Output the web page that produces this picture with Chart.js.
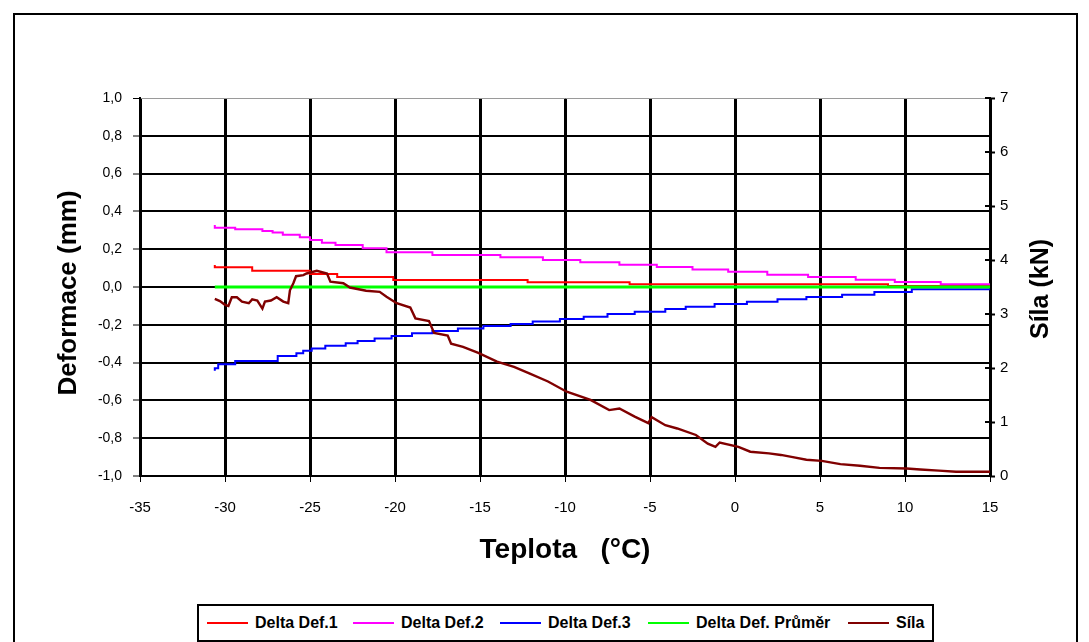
<!DOCTYPE html>
<html lang="cs">
<head>
<meta charset="UTF-8">
<style>
  html, body { margin: 0; padding: 0; background: #fff; }
  body { width: 1089px; height: 642px; overflow: hidden; position: relative; font-family: "Liberation Sans", Arial, sans-serif; }
  #frame { position: absolute; left: 13px; top: 13px; width: 1065px; height: 700px; border: 2px solid #000; box-sizing: border-box; }
  #chart { position: absolute; left: 0; top: 0; }
  #legend { position: absolute; left: 197px; top: 604px; width: 737px; height: 38px; border: 2px solid #000; box-sizing: border-box; background: #fff; }
  .item { position: absolute; top: 0; height: 34px; display: flex; align-items: center; }
  .item i { display: inline-block; width: 41px; height: 2px; margin-right: 7px; }
  .item span { font-weight: bold; font-size: 16px; color: #000; white-space: nowrap; }
</style>
</head>
<body>
<div id="frame"></div>
<canvas id="chart" width="1089" height="642"></canvas>
<div id="legend"></div>

<script src="https://cdn.jsdelivr.net/npm/chart.js"></script>
<script>
// teplota (°C) / hodnota, body
const det1 = [[-30.6, 0.116], [-28.4, 0.104], [-25.0, 0.086], [-23.4, 0.069], [-20.1, 0.053],
  [-12.2, 0.037], [-6.2, 0.025], [-0.3, 0.014], [9.0, 0.014], [10.0, 0.005], [15.0, 0.005]];
const det2 = [[-30.6, 0.328], [-29.4, 0.314], [-27.8, 0.305], [-27.2, 0.296], [-26.6, 0.289],
  [-25.6, 0.277], [-25.0, 0.263], [-24.3, 0.249], [-23.5, 0.234], [-21.9, 0.222], [-20.5, 0.205],
  [-17.8, 0.184], [-13.8, 0.169], [-11.3, 0.157], [-9.1, 0.143], [-6.8, 0.131], [-4.6, 0.118],
  [-2.5, 0.106], [-0.4, 0.092], [1.9, 0.081], [4.3, 0.065], [7.1, 0.053], [9.4, 0.039],
  [12.1, 0.026], [14.6, 0.014], [15.0, 0.014]];
const det3 = [[-30.6, -0.443], [-30.4, -0.430], [-29.4, -0.409], [-26.9, -0.392], [-25.8, -0.365],
  [-25.4, -0.351], [-24.9, -0.337], [-24.1, -0.325], [-22.9, -0.311], [-22.2, -0.298],
  [-21.2, -0.286], [-20.2, -0.272], [-19.0, -0.259], [-17.8, -0.245], [-16.3, -0.233],
  [-14.8, -0.219], [-13.2, -0.206], [-11.9, -0.196], [-10.3, -0.183], [-8.9, -0.169],
  [-7.5, -0.157], [-5.9, -0.143], [-4.1, -0.131], [-2.9, -0.116], [-1.2, -0.104], [0.7, -0.090],
  [2.5, -0.078], [4.2, -0.065], [6.3, -0.053], [8.2, -0.041], [10.4, -0.026], [12.8, -0.012],
  [15.0, -0.012]];
const prumer = [[-30.6, 0.0], [15.0, 0.0]];
const sila = [[-30.6, 3.28], [-30.3, 3.24], [-30.0, 3.17], [-29.8, 3.15], [-29.6, 3.31], [-29.3, 3.31],
  [-29.0, 3.23], [-28.6, 3.20], [-28.4, 3.27], [-28.1, 3.25], [-27.8, 3.10], [-27.65, 3.23],
  [-27.3, 3.25], [-26.96, 3.31], [-26.57, 3.23], [-26.28, 3.20], [-26.18, 3.44], [-25.98, 3.57],
  [-25.82, 3.70], [-25.39, 3.72], [-25.2, 3.75], [-24.6, 3.80], [-24.0, 3.75], [-23.8, 3.60],
  [-23.04, 3.57], [-22.65, 3.49], [-21.7, 3.43], [-20.9, 3.41], [-20.5, 3.32], [-19.9, 3.20],
  [-19.1, 3.12], [-18.8, 2.92], [-18.0, 2.87], [-17.7, 2.65], [-16.9, 2.60], [-16.7, 2.45],
  [-16.0, 2.39], [-15.1, 2.28], [-14.0, 2.12], [-13.0, 2.02], [-12.1, 1.90], [-11.0, 1.75],
  [-9.9, 1.56], [-8.5, 1.41], [-7.4, 1.22], [-6.8, 1.25], [-5.9, 1.10], [-5.1, 0.98], [-4.9, 1.09],
  [-4.1, 0.94], [-3.4, 0.88], [-2.3, 0.76], [-1.6, 0.60], [-1.15, 0.54], [-0.9, 0.62], [0.2, 0.54],
  [0.9, 0.45], [2.0, 0.42], [2.7, 0.39], [3.4, 0.35], [4.2, 0.30], [5.1, 0.28], [6.2, 0.22],
  [7.35, 0.19], [8.5, 0.15], [10.1, 0.14], [10.9, 0.12], [12.0, 0.10], [13.0, 0.08], [15.0, 0.08]];

const labels = ["Delta Def.1", "Delta Def.2", "Delta Def.3", "Delta Def. Průměr", "Síla"];
const colors = ["#ff0000", "#ff00ff", "#0000ff", "#00ff00", "#800000"];
const widths = [2, 2, 2, 3, 2.4];
const xTicks = { min: -35, max: 15, step: 5 };
const yTicks = { min: -1, max: 1, step: 0.2 };
const y2Ticks = { min: 0, max: 7, step: 1 };

const FONT = '"Liberation Sans", Arial, sans-serif';
const PL = 140, PR = 990, PT = 98, PB = 476;

const toXY = arr => arr.map(p => ({ x: p[0], y: p[1] }));
const series = [det1, det2, det3, prumer, sila];

const datasets = series.map((s, i) => ({
  label: labels[i],
  data: toXY(s),
  borderColor: colors[i],
  backgroundColor: colors[i],
  borderWidth: widths[i],
  pointRadius: 0,
  stepped: i < 3 ? 'after' : false,
  tension: 0,
  yAxisID: i === 4 ? 'y2' : 'y',
  order: 5 - i
}));

const titles = {
  id: 'titles',
  afterDraw(chart) {
    const { ctx, chartArea: a } = chart;
    const y2 = chart.scales.y2;
    ctx.save();
    // vnitřní část značek pravé osy
    ctx.strokeStyle = '#000';
    ctx.lineWidth = 2;
    for (let v = y2Ticks.min; v <= y2Ticks.max; v += y2Ticks.step) {
      const py = Math.round(y2.getPixelForValue(v));
      ctx.beginPath();
      ctx.moveTo(a.right - 5, py);
      ctx.lineTo(a.right, py);
      ctx.stroke();
    }
    ctx.fillStyle = '#000';
    ctx.textAlign = 'center';
    ctx.textBaseline = 'middle';
    ctx.font = 'bold 28px ' + FONT;
    ctx.fillText('Teplota   (°C)', (a.left + a.right) / 2, 550);
    ctx.save();
    ctx.translate(69, 293);
    ctx.rotate(-Math.PI / 2);
    ctx.font = 'bold 26px ' + FONT;
    ctx.fillText('Deformace (mm)', 0, 0);
    ctx.restore();
    ctx.translate(1041, 289);
    ctx.rotate(-Math.PI / 2);
    ctx.font = 'bold 25px ' + FONT;
    ctx.fillText('Síla (kN)', 0, 0);
    ctx.restore();
  }
};

const comma = v => v.toFixed(1).replace('.', ',');
const isTop = c => c.tick && Math.abs(c.tick.value - yTicks.max) < 1e-6;

new Chart(document.getElementById('chart'), {
  type: 'line',
  data: { datasets },
  options: {
    responsive: false,
    animation: false,
    events: [],
    layout: { padding: { top: PT, left: 0, right: 0, bottom: 0 } },
    plugins: { legend: { display: false }, tooltip: { enabled: false } },
    scales: {
      x: {
        type: 'linear',
        min: xTicks.min, max: xTicks.max,
        afterFit: s => { s.height = 642 - PB; },
        ticks: { stepSize: xTicks.step, autoSkip: false, maxRotation: 0, color: '#000', padding: 17, font: { size: 15, family: FONT } },
        grid: { color: '#000', lineWidth: 3, tickLength: 6, tickColor: '#000', tickWidth: 1 },
        border: { color: '#000', width: 2 }
      },
      y: {
        position: 'left',
        min: yTicks.min, max: yTicks.max,
        afterFit: s => { s.width = PL; },
        ticks: { stepSize: yTicks.step, color: '#000', padding: 11, font: { size: 14, family: FONT }, callback: v => comma(v) },
        grid: {
          color: c => isTop(c) ? '#9a9a9a' : '#000',
          lineWidth: c => isTop(c) ? 1 : 2,
          tickLength: 7, tickColor: '#000', tickWidth: 1
        },
        border: { color: '#000', width: 2 }
      },
      y2: {
        position: 'right',
        min: y2Ticks.min, max: y2Ticks.max,
        afterFit: s => { s.width = 1089 - PR; },
        ticks: { stepSize: y2Ticks.step, color: '#000', padding: 5, font: { size: 15, family: FONT } },
        grid: { drawOnChartArea: false, tickLength: 5, tickColor: '#000', tickWidth: 2 },
        border: { color: '#000', width: 2 }
      }
    }
  },
  plugins: [titles]
});

// legenda
const legendLeft = [8, 154, 301, 449, 649];
const legend = document.getElementById('legend');
labels.forEach((t, i) => {
  const it = document.createElement('div');
  it.className = 'item';
  it.style.left = legendLeft[i] + 'px';
  it.innerHTML = '<i style="background:' + colors[i] + '"></i><span>' + t + '</span>';
  legend.appendChild(it);
});
</script>
</body>
</html>
